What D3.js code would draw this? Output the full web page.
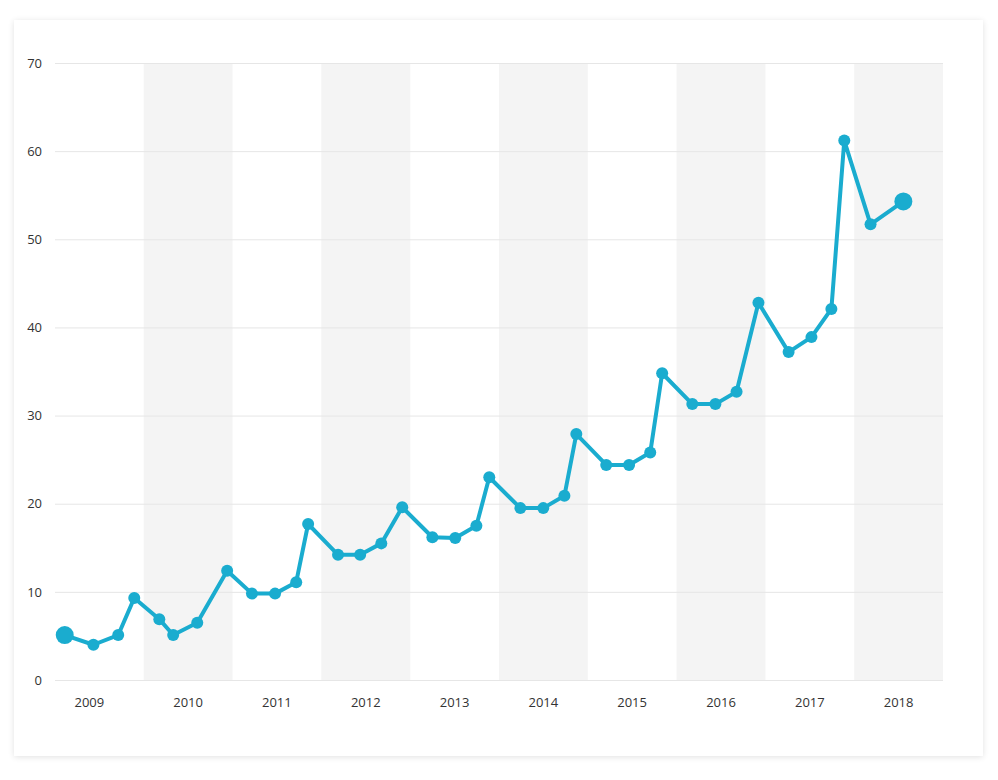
<!DOCTYPE html>
<html>
<head>
<meta charset="utf-8">
<script src="https://cdn.jsdelivr.net/npm/d3@7"></script>
<style>
  body { margin: 0; background: #fff; font-family: "Open Sans", "Noto Sans", sans-serif; }
  .card {
    position: absolute; left: 14px; top: 20px; width: 969px; height: 736px;
    background: #fff; box-shadow: 0 1px 6px rgba(0,0,0,0.12);
  }
  svg { position: absolute; left: 0; top: 0; }
</style>
</head>
<body>
<div class="card"></div>
<svg id="chart" width="998" height="780"></svg>
<script>
// Quarterly points
const dates = [
  "2009-02-10", "2009-06-08", "2009-09-18", "2009-11-23",
  "2010-03-06", "2010-05-02", "2010-08-09", "2010-12-10",
  "2011-03-22", "2011-06-25", "2011-09-20", "2011-11-08",
  "2012-03-10", "2012-06-09", "2012-09-04", "2012-11-29",
  "2013-04-02", "2013-07-05", "2013-09-30", "2013-11-22",
  "2014-03-30", "2014-07-02", "2014-09-27", "2014-11-15",
  "2015-03-18", "2015-06-20", "2015-09-15", "2015-11-03",
  "2016-03-06", "2016-06-09", "2016-09-04", "2016-12-03",
  "2017-04-06", "2017-07-09", "2017-09-29", "2017-11-21",
  "2018-03-09", "2018-07-22"
];
const values = [
  5.1, 4.0, 5.1, 9.3,
  6.9, 5.1, 6.5, 12.4,
  9.8, 9.8, 11.1, 17.7,
  14.2, 14.2, 15.5, 19.6,
  16.2, 16.1, 17.5, 23.0,
  19.5, 19.5, 20.9, 27.9,
  24.4, 24.4, 25.8, 34.8,
  31.3, 31.3, 32.7, 42.8,
  37.2, 38.9, 42.1, 61.2,
  51.7, 54.3
];
const years = [2009, 2010, 2011, 2012, 2013, 2014, 2015, 2016, 2017, 2018];
const yTicks = [0, 10, 20, 30, 40, 50, 60, 70];

const margin = { left: 55, right: 55, top: 63, bottom: 100 };
const width = 998, height = 780;
const color = "#1aaccf";

const svg = d3.select("#chart");
const parse = d3.utcParse("%Y-%m-%d");
const data = dates.map((d, i) => ({ date: parse(d), value: values[i] }));

const x = d3.scaleUtc()
    .domain([Date.UTC(years[0], 0, 1), Date.UTC(years[years.length - 1] + 1, 0, 1)])
    .range([margin.left, width - margin.right]);
const y = d3.scaleLinear()
    .domain([0, 70])
    .range([height - margin.bottom, margin.top]);

// Alternating year bands
svg.append("g")
  .selectAll("rect")
  .data(years.filter((yr, i) => i % 2 === 1))
  .join("rect")
    .attr("x", d => x(Date.UTC(d, 0, 1)))
    .attr("width", d => x(Date.UTC(d + 1, 0, 1)) - x(Date.UTC(d, 0, 1)))
    .attr("y", y(70))
    .attr("height", y(0) - y(70))
    .attr("fill", "#f4f4f4");

// Grid lines + y labels
const yAxis = svg.append("g")
    .attr("transform", `translate(${margin.left},0)`)
    .call(d3.axisLeft(y).tickValues(yTicks)
      .tickSize(-(width - margin.left - margin.right)).tickPadding(13));
yAxis.select(".domain").remove();
yAxis.selectAll(".tick line").attr("stroke", "#e6e6e6");
yAxis.selectAll(".tick text")
    .attr("fill", "#333").attr("font-size", 13)
    .attr("font-family", "'Open Sans', sans-serif");

// Year labels, centred in each band (first one nudged left like the original)
svg.append("g")
  .selectAll("text")
  .data(years)
  .join("text")
    .attr("x", d => (x(Date.UTC(d, 0, 1)) + x(Date.UTC(d + 1, 0, 1))) / 2)
    .attr("dx", (d, i) => i === 0 ? -10 : 0)
    .attr("y", y(0) + 27)
    .attr("text-anchor", "middle")
    .attr("fill", "#333")
    .attr("font-size", 13)
    .text(d => d);

// Line
const line = d3.line().x(d => x(d.date)).y(d => y(d.value));
svg.append("path")
    .datum(data)
    .attr("d", line)
    .attr("fill", "none")
    .attr("stroke", color)
    .attr("stroke-width", 4)
    .attr("stroke-linejoin", "round");

// Markers, larger at both ends
svg.append("g")
  .selectAll("circle")
  .data(data)
  .join("circle")
    .attr("cx", d => x(d.date))
    .attr("cy", d => y(d.value))
    .attr("r", (d, i) => (i === 0 || i === data.length - 1) ? 9 : 6)
    .attr("fill", color);
</script>
</body>
</html>
